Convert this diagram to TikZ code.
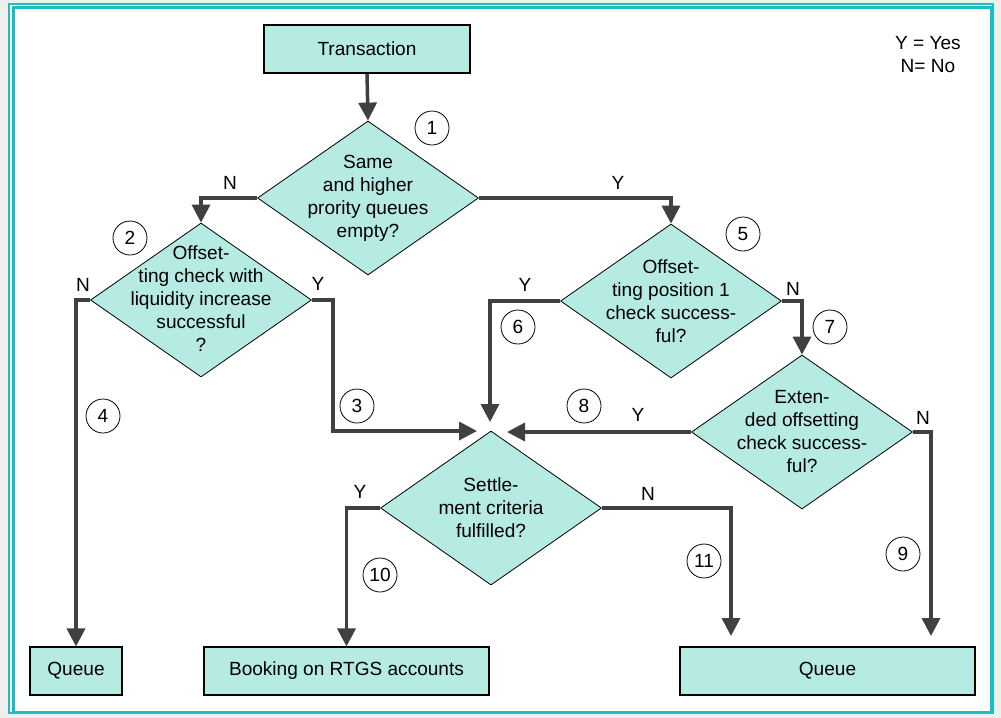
\documentclass[tikz,border=0pt]{standalone}
\usepackage{fontspec}
\setmainfont{Liberation Sans}
\usetikzlibrary{shapes.geometric,arrows.meta,calc}
\definecolor{teal1}{HTML}{19BFC2}
\definecolor{fillc}{HTML}{B5EBE3}
\definecolor{linec}{HTML}{404040}
\definecolor{bgc}{HTML}{EEF0EC}
\begin{document}
\begin{tikzpicture}[x=0.75pt,y=-0.75pt,
  every node/.style={font=\fontsize{14.3}{17.25}\selectfont, inner sep=0pt},
  boxnode/.style={draw=black, line width=0.8pt, fill=fillc, minimum height=36pt},
  dia/.style={diamond, draw=black, line width=0.6pt, fill=fillc, minimum width=165.75pt, minimum height=115.5pt, inner sep=0pt},
  dtext/.style={align=center},
  num/.style={circle, draw=black, line width=0.6pt, minimum size=25.5pt, fill=white},
  yn/.style={},
  flow/.style={draw=linec, line width=2.6pt, -{Triangle[length=13.5pt,width=13.5pt]}},
  flowplain/.style={draw=linec, line width=2.6pt}
]
\useasboundingbox (0,0) rectangle (1001,718);
\fill[bgc] (0,0) rectangle (1001,718);
\fill[white] (9,4) rectangle (993,713);
\draw[teal1, line width=1.6pt] (9,4) rectangle (993,713);
\draw[teal1, line width=2.6pt] (13.5,7.5) rectangle (992,712.5);

% boxes
\node[boxnode, minimum width=154.5pt] (tr) at (367,49) {Transaction};
\node[boxnode, minimum width=69pt] (q1) at (76,671) {Queue};
\node[boxnode, minimum width=213.75pt] (bk) at (346.5,671) {Booking on RTGS accounts};
\node[boxnode, minimum width=221.25pt] (q2) at (827.5,671) {Queue};

% diamonds
\node[dia] (d1) at (368,198) {};
\node[dtext] (d1t) at (368,198) {Same\\and higher\\prority queues\\empty?};
\node[dia] (d2) at (201,300) {};
\node[dtext] (d2t) at (201,298.5) {Offset-\\ting check with\\liquidity increase\\successful\\?};
\node[dia] (d5) at (671,301) {};
\node[dtext] (d5t) at (671,301.5) {Offset-\\ting position 1\\check success-\\ful?};
\node[dia] (d7) at (802,432) {};
\node[dtext] (d7t) at (802,431.5) {Exten-\\ded offsetting\\check success-\\ful?};
\node[dia] (ds) at (491,508) {};
\node[dtext] (dst) at (491,507.5) {Settle-\\ment criteria\\fulfilled?};

% free ends
\coordinate (inL) at (477,431);
\coordinate (inT) at (490,422);
\coordinate (inR) at (507,432);
\coordinate (q2L) at (731,636);
\coordinate (q2R) at (931,636);

% connectors
\draw[flow] (tr.south) -- (d1.north);
\draw[flow] (d1.west) -| (d2.north);
\draw[flow] (d1.east) -| (d5.north);
\draw[flow] (d2.west) -| (q1.north);
\draw[flow] (d2.east) -- ++(21,0) |- (inL);
\draw[flow] (d5.west) -| (inT);
\draw[flow] (d5.east) -| (d7.north);
\draw[flow] (d7.west) -- (inR);
\draw[flow] (d7.east) -| (q2R);
\draw[flow] (ds.west) -| (bk.north);
\draw[flow] (ds.east) -| (q2L);

% Y/N labels
\node[yn] (l1n) at (230,183) {N};
\node[yn] (l1y) at (618,183) {Y};
\node[yn] (l2n) at (83,285) {N};
\node[yn] (l2y) at (318,284) {Y};
\node[yn] (l5y) at (525,285) {Y};
\node[yn] (l5n) at (793,289) {N};
\node[yn] (l7y) at (638,415) {Y};
\node[yn] (l7n) at (923,418) {N};
\node[yn] (lsy) at (360,492) {Y};
\node[yn] (lsn) at (648,494) {N};

% numbers
\node[num] (n1) at (432,128) {1};
\node[num] (n2) at (130,238) {2};
\node[num] (n3) at (357,406) {3};
\node[num] (n4) at (103,416) {4};
\node[num] (n5) at (743,234) {5};
\node[num] (n6) at (518,327) {6};
\node[num] (n7) at (830,327) {7};
\node[num] (n8) at (584,406) {8};
\node[num] (n9) at (903,554) {9};
\node[num] (n10) at (380,575) {10};
\node[num] (n11) at (704,561) {11};

% legend
\node[align=center] (leg) at (928,54.5) {Y = Yes\\N= No};
\end{tikzpicture}
\end{document}
